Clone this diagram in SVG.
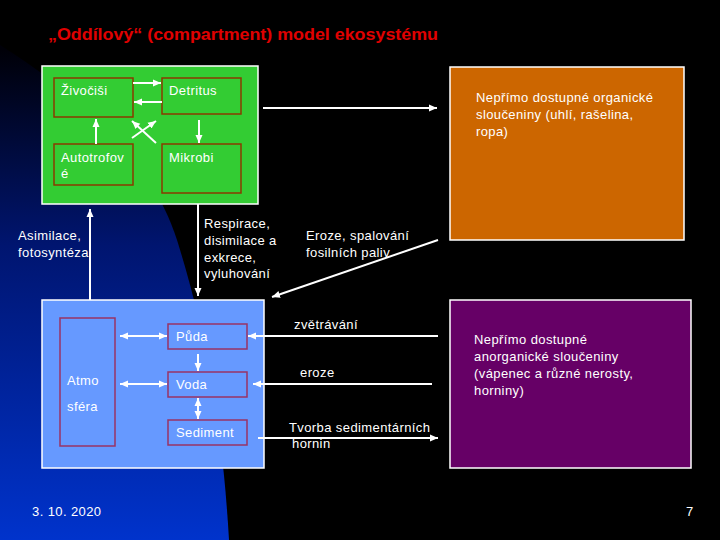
<svg xmlns="http://www.w3.org/2000/svg" width="720" height="540" viewBox="0 0 720 540">
<defs>
<linearGradient id="bg" x1="0" y1="50" x2="0" y2="540" gradientUnits="userSpaceOnUse">
<stop offset="0" stop-color="#000008"/>
<stop offset="0.4" stop-color="#001570"/>
<stop offset="1" stop-color="#0033cc"/>
</linearGradient>
<marker id="ah" markerUnits="userSpaceOnUse" markerWidth="9" markerHeight="8" refX="8" refY="4" orient="auto-start-reverse">
<path d="M0,0.5 L8,4 L0,7.5 z" fill="#fff"/>
</marker>
<style>
.t{font-family:"Liberation Sans",Arial,sans-serif;font-size:13px;fill:#fff;letter-spacing:0.4px}
.c{stroke:#fff;stroke-width:2;fill:none}
.big{stroke:#fff;stroke-width:1.5}
.ib{fill:none;stroke:#8b3a00;stroke-width:1.5}
.pb{fill:none;stroke:#993366;stroke-width:1.5}
</style>
</defs>
<rect width="720" height="540" fill="#000"/>
<path d="M0,45 C70,90 148,150 177,240 C205,330 222,420 229,540 L0,540 Z" fill="url(#bg)"/>
<text x="48" y="40" font-family="'Liberation Sans',Arial,sans-serif" font-size="17" font-weight="bold" fill="#e00000" textLength="390" lengthAdjust="spacingAndGlyphs">„Oddílový“ (compartment) model ekosystému</text>

<g id="green">
<rect x="42" y="66" width="216" height="138" fill="#33cc33" class="big"/>
</g>
<g id="zivocisi"><rect x="54" y="78" width="79" height="39" class="ib"/><text class="t" x="61" y="95">Živočiši</text></g>
<g id="detritus"><rect x="162" y="78" width="79" height="36" class="ib"/><text class="t" x="169" y="95">Detritus</text></g>
<g id="autotrofove"><rect x="54" y="144" width="79" height="41" class="ib"/><text class="t" x="61" y="162">Autotrofov</text><text class="t" x="61" y="178">é</text></g>
<g id="mikrobi"><rect x="162" y="144" width="79" height="49" class="ib"/><text class="t" x="169" y="162">Mikrobi</text></g>

<g id="orange"><rect x="450" y="67" width="234" height="173" fill="#cc6600" class="big"/>
<text class="t" x="476" y="102">Nepřímo dostupné organické</text>
<text class="t" x="476" y="119">sloučeniny (uhlí, rašelina,</text>
<text class="t" x="476" y="136">ropa)</text></g>

<g id="blue"><rect x="42" y="300" width="222" height="168" fill="#6699ff" class="big"/></g>
<g id="atmosfera"><rect x="60" y="318" width="55" height="128" class="pb"/><text class="t" x="67" y="385">Atmo</text><text class="t" x="67" y="411">sféra</text></g>
<g id="puda"><rect x="168" y="324" width="79" height="25" class="pb"/><text class="t" x="176" y="341">Půda</text></g>
<g id="voda"><rect x="168" y="372" width="79" height="25" class="pb"/><text class="t" x="176" y="389">Voda</text></g>
<g id="sediment"><rect x="168" y="420" width="79" height="25" class="pb"/><text class="t" x="176" y="437">Sediment</text></g>

<g id="purple"><rect x="450" y="300" width="241" height="168" fill="#660066" class="big"/>
<text class="t" x="474" y="344">Nepřímo dostupné</text>
<text class="t" x="474" y="361">anorganické sloučeniny</text>
<text class="t" x="474" y="378">(vápenec a různé nerosty,</text>
<text class="t" x="474" y="395">horniny)</text></g>

<g id="labels">
<text class="t" x="18" y="240">Asimilace,</text>
<text class="t" x="18" y="257">fotosyntéza</text>
<text class="t" x="204" y="228">Respirace,</text>
<text class="t" x="204" y="245">disimilace a</text>
<text class="t" x="204" y="262">exkrece,</text>
<text class="t" x="204" y="278">vyluhování</text>
<text class="t" x="306" y="240">Eroze, spalování</text>
<text class="t" x="306" y="257">fosilních paliv</text>
<text class="t" x="294" y="329">zvětrávání</text>
<text class="t" x="300" y="377">eroze</text>
<text class="t" x="289" y="432">Tvorba sedimentárních</text>
<text class="t" x="292" y="448">hornin</text>
<text class="t" x="32" y="516" font-size="12">3. 10. 2020</text>
<text class="t" x="686" y="516" font-size="12">7</text>
</g>

<g id="connectors">
<line class="c" x1="133" y1="83" x2="161" y2="83" marker-end="url(#ah)"/>
<line class="c" x1="162" y1="102" x2="134" y2="102" marker-end="url(#ah)"/>
<line class="c" x1="96" y1="144" x2="96" y2="119" marker-end="url(#ah)"/>
<line class="c" x1="199" y1="120" x2="199" y2="143" marker-end="url(#ah)"/>
<line class="c" x1="132" y1="138" x2="156" y2="121" marker-end="url(#ah)"/>
<line class="c" x1="156" y1="143" x2="132" y2="121" marker-end="url(#ah)"/>
<line class="c" x1="263" y1="108" x2="437" y2="108" marker-end="url(#ah)"/>
<line class="c" x1="90" y1="300" x2="90" y2="209" marker-end="url(#ah)"/>
<line class="c" x1="198" y1="204" x2="198" y2="296" marker-end="url(#ah)"/>
<line class="c" x1="438" y1="240" x2="272" y2="297" marker-end="url(#ah)"/>
<line class="c" x1="120" y1="336" x2="167" y2="336" marker-start="url(#ah)" marker-end="url(#ah)"/>
<line class="c" x1="120" y1="384" x2="167" y2="384" marker-start="url(#ah)" marker-end="url(#ah)"/>
<line class="c" x1="198" y1="354" x2="198" y2="371" marker-end="url(#ah)"/>
<line class="c" x1="198" y1="398" x2="198" y2="419" marker-start="url(#ah)" marker-end="url(#ah)"/>
<line class="c" x1="438" y1="336" x2="248" y2="336" marker-end="url(#ah)"/>
<line class="c" x1="432" y1="384" x2="253" y2="384" marker-end="url(#ah)"/>
<line class="c" x1="258" y1="438" x2="438" y2="438" marker-end="url(#ah)"/>
</g>
</svg>
